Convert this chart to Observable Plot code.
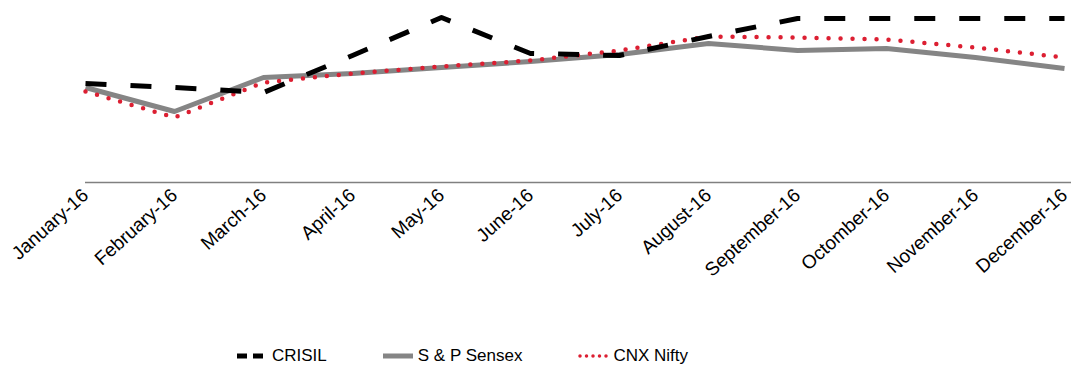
<!DOCTYPE html>
<html>
<head>
<meta charset="utf-8">
<script src="https://cdn.jsdelivr.net/npm/d3@7"></script>
<script src="https://cdn.jsdelivr.net/npm/@observablehq/plot@0.6"></script>
<style>
  html, body { margin: 0; padding: 0; background: #fff; }
  body { width: 1076px; height: 370px; overflow: hidden; font-family: "Liberation Sans", Arial, sans-serif; }
  #legend { display: flex; align-items: center; margin-left: 237px; margin-top: 36px; font-size: 17px; color: #000; }
  .item { display: flex; align-items: center; margin-right: 56px; }
  .item svg { margin-right: 5px; }
</style>
</head>
<body>
<div id="chart"></div>
<div id="legend"></div>
<script>
const months = ["January-16","February-16","March-16","April-16","May-16","June-16","July-16","August-16","September-16","Octomber-16","November-16","December-16"];
const crisil = [99, 95, 90, 127, 165, 129, 127, 146, 164, 164, 164, 164];
const sensex = [95, 71, 105, 109, 115, 121, 128, 139, 132, 134, 125, 114];
const nifty  = [91, 65, 100, 109, 116, 122, 132, 146, 145, 143, 135, 125];
const seriesNames = ["CRISIL", "S & P Sensex", "CNX Nifty"];

const styles = {
  "CRISIL": {stroke: "#000000", strokeWidth: 5, strokeDasharray: "21,24", strokeLinecap: "butt"},
  "S & P Sensex": {stroke: "#858585", strokeWidth: 5, strokeDasharray: null, strokeLinecap: "butt"},
  "CNX Nifty": {stroke: "#dc1f32", strokeWidth: 4.5, strokeDasharray: "0,12", strokeLinecap: "round"}
};

const rows = (name, vals) => months.map((m, i) => ({month: m, value: vals[i], series: name}));
const data = {"CRISIL": rows("CRISIL", crisil), "S & P Sensex": rows("S & P Sensex", sensex), "CNX Nifty": rows("CNX Nifty", nifty)};

const plot = Plot.plot({
  width: 1076,
  height: 310,
  marginLeft: 85,
  marginRight: 5,
  marginTop: 2,
  marginBottom: 128,
  style: {fontFamily: "'Liberation Sans', Arial, sans-serif", fontSize: "17px", color: "#000", background: "#fff"},
  x: {type: "point", domain: months, padding: 0, insetLeft: -3, insetRight: 4},
  y: {domain: [0, 180], axis: null},
  marks: [
    Plot.axisX({tickRotate: -42, fontSize: 19, tickSize: 0, tickPadding: 10, label: null}),
    Plot.ruleY([0], {stroke: "#808080", strokeWidth: 1.5}),
    ...["S & P Sensex", "CNX Nifty", "CRISIL"].map(name =>
      Plot.line(data[name], {x: "month", y: "value", stroke: styles[name].stroke, strokeWidth: styles[name].strokeWidth, strokeDasharray: styles[name].strokeDasharray, strokeLinecap: styles[name].strokeLinecap, strokeLinejoin: "round"})
    )
  ]
});
document.getElementById("chart").appendChild(plot);

const legend = document.getElementById("legend");
seriesNames.forEach(name => {
  const s = styles[name];
  const item = document.createElement("div");
  item.className = "item";
  const dash = s.strokeDasharray ? (name === "CRISIL" ? "10,6" : "0,6.5") : "";
  item.innerHTML = `<svg width="30" height="10"><line x1="${name === 'CNX Nifty' ? 2 : 0}" y1="5" x2="30" y2="5" stroke="${s.stroke}" stroke-width="${name === 'CNX Nifty' ? 3.5 : 5}" ${dash ? `stroke-dasharray="${dash}"` : ""} stroke-linecap="${s.strokeLinecap}"/></svg><span>${name}</span>`;
  legend.appendChild(item);
});
</script>
</body>
</html>
